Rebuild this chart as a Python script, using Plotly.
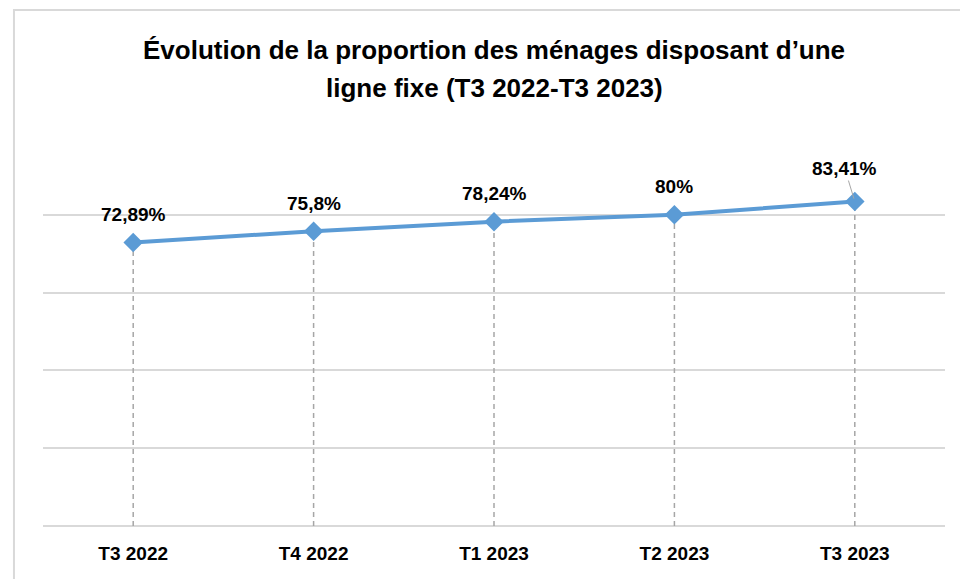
import plotly.graph_objects as go

categories = ["T3 2022", "T4 2022", "T1 2023", "T2 2023", "T3 2023"]
values = [72.89, 75.8, 78.24, 80, 83.41]
labels = ["72,89%", "75,8%", "78,24%", "80%", "83,41%"]
title_lines = ["Évolution de la proportion des ménages disposant d’une", "ligne fixe (T3 2022-T3 2023)"]

FONT = "Liberation Sans Narrow, Arial Narrow, Liberation Sans, Arial, sans-serif"
BLUE = "#5B9BD5"
GRID = "#d9d9d9"

fig = go.Figure()

# dashed drop lines
dx, dy = [], []
for c, v in zip(categories, values):
    dx += [c, c, None]
    dy += [0, v, None]
fig.add_trace(go.Scatter(x=dx, y=dy, mode="lines",
                         line=dict(color="#a6a6a6", width=1.5, dash="5px,4px"),
                         hoverinfo="skip", showlegend=False))

fig.add_trace(go.Scatter(x=categories, y=values, mode="lines+markers",
                         line=dict(color=BLUE, width=4),
                         marker=dict(symbol="diamond", size=15, color=BLUE),
                         showlegend=False))

for i, (c, v, t) in enumerate(zip(categories, values, labels)):
    if i == len(categories) - 1:
        fig.add_annotation(x=c, y=v, text=f"<b>{t}</b>", showarrow=True,
                           arrowhead=0, arrowwidth=1, arrowcolor="#a6a6a6",
                           ax=-10, ay=-33, standoff=3,
                           font=dict(family=FONT, size=19, color="#000"))
    else:
        fig.add_annotation(x=c, y=v, text=f"<b>{t}</b>", showarrow=False,
                           yshift=28, font=dict(family=FONT, size=19, color="#000"))

for line, yp in zip(title_lines, [1.2237, 1.126]):
    fig.add_annotation(xref="paper", yref="paper", x=0.5, y=yp, text=f"<b>{line}</b>",
                       showarrow=False, yanchor="middle",
                       font=dict(family=FONT, size=26, color="#000"))

# chart border
fig.add_shape(type="rect", xref="paper", yref="paper", x0=-0.0322, x1=1.06, y0=-0.3, y1=1.3265,
              line=dict(color=GRID, width=2), layer="below")

fig.update_layout(
    width=960, height=579,
    margin=dict(l=43, r=15, t=137, b=53),
    paper_bgcolor="white", plot_bgcolor="white",
    xaxis=dict(range=[-0.5, 4.5], showgrid=False, showline=False, zeroline=False, ticks="",
               tickfont=dict(family=FONT, size=19, color="#000"),
               ticklabelstandoff=14),
    yaxis=dict(range=[0, 100], dtick=20, showgrid=True, gridcolor=GRID, gridwidth=1.5,
               zeroline=True, zerolinecolor=GRID, zerolinewidth=1.5,
               showticklabels=False, fixedrange=True),
)
fig.update_xaxes(tickprefix="<b>", ticksuffix="</b>")

fig.write_html("out.html", config={"displayModeBar": False},
               post_script="document.body.style.margin='0';document.body.style.overflow='hidden';")
